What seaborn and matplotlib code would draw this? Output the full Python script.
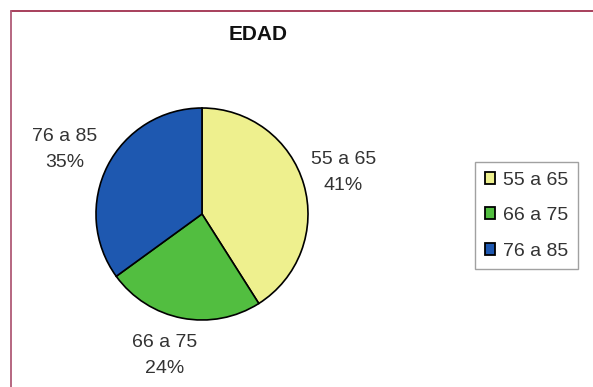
import matplotlib
matplotlib.use("Agg")
import matplotlib.pyplot as plt
from matplotlib.lines import Line2D
from matplotlib.patches import Patch
import numpy as np
import seaborn as sns

# Age distribution
categories = ["55 a 65", "66 a 75", "76 a 85"]
shares = [41, 24, 35]
slice_colors = ["#EEF08E", "#52BE40", "#1E58B0"]
title = "EDAD"

sns.set_style("white")
plt.rcParams["font.family"] = ["Liberation Sans", "DejaVu Sans"]

W, H = 593, 387
fig = plt.figure(figsize=(W / 100, H / 100), dpi=100)
fig.patch.set_facecolor("white")

# pie axes: centre (202, 214) px, radius 106 px
cx, cy, r = 202, 214, 106
ax = fig.add_axes([(cx - r) / W, 1 - (cy + r) / H, 2 * r / W, 2 * r / H])
palette = sns.color_palette(slice_colors)
wedges, _ = ax.pie(shares, colors=palette, startangle=90, counterclock=False,
                   radius=1.0,
                   wedgeprops=dict(edgecolor="black", linewidth=1.2))
ax.set_xlim(-1, 1)
ax.set_ylim(-1, 1)
ax.set_aspect("equal")
ax.axis("off")

FS = 14

# outside labels, placed near each slice's mid angle
label_dist = [1.39, 1.38, 1.43]
angle_shift = [0.0, -4.0, 2.0]
for w, cat, val, d, da in zip(wedges, categories, shares, label_dist, angle_shift):
    mid = np.deg2rad((w.theta1 + w.theta2) / 2 + da)
    ax.text(d * np.cos(mid), d * np.sin(mid), f"{cat}\n{val}%",
            ha="center", va="center", fontsize=FS, color="#333333",
            linespacing=1.7, clip_on=False)

fig.text(258 / W, 1 - 34.5 / H, title, ha="center", va="center",
         fontsize=15, fontweight="bold", color="#111111")

handles = [Patch(facecolor=c, edgecolor="black", linewidth=1.3) for c in palette]
leg = fig.legend(handles, categories, loc="upper left",
                 bbox_to_anchor=(475 / W, 1 - 162 / H), borderaxespad=0,
                 frameon=True, fancybox=False, edgecolor="#8a8a8a",
                 fontsize=FS, handlelength=0.55, handleheight=0.55,
                 handletextpad=0.4, labelspacing=0.95, borderpad=0.5)
leg.get_frame().set_linewidth(1.0)
for t in leg.get_texts():
    t.set_color("#333333")

# frame lines along the top and left edges
fig.add_artist(Line2D([11 / W, 1], [1 - 10.5 / H, 1 - 10.5 / H],
                      transform=fig.transFigure, color="#A0304E", lw=1.3))
fig.add_artist(Line2D([11 / W, 11 / W], [0, 1 - 10.5 / H],
                      transform=fig.transFigure, color="#B05A76", lw=1.3))

fig.savefig("out.png", dpi=100, facecolor="white")
